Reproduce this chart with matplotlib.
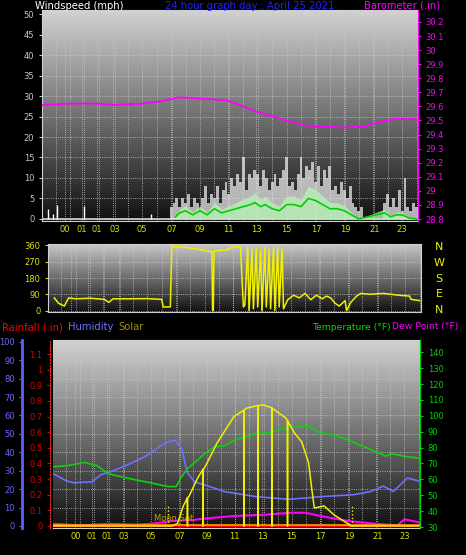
import numpy as np
import matplotlib
matplotlib.use("Agg")
import matplotlib.pyplot as plt
from matplotlib.colors import LinearSegmentedColormap

# ---------------- data ----------------
xtick_pos = [-0.35, 0.83, 1.87, 3.1, 5.0, 7.07, 9.0, 10.95, 12.9, 15.0, 17.05, 19.06, 21.07, 23.0]
xtick_lab = ["00", "01", "01", "03", "05", "07", "09", "11", "13", "15", "17", "19", "21", "23"]

# barometer (inHg)
baro_t = [-1.9, 0, 2, 3, 5, 6.5, 7.5, 9, 10, 11, 12, 13, 14, 15, 16, 17, 18, 19, 20, 20.5, 21, 22, 22.5, 24]
baro_v = [29.61, 29.62, 29.62, 29.61, 29.62, 29.64, 29.665, 29.655, 29.65, 29.64, 29.6, 29.56, 29.53, 29.5, 29.47,
          29.455, 29.455, 29.45, 29.455, 29.46, 29.48, 29.5, 29.51, 29.51]

# gusts (mph)
night_gust_t = [-1.5, -1.2, -0.9, 1.0, 5.6]
night_gust_v = [2.5, 1.2, 3.3, 3.2, 1.2]
day_gust_start = 7.0
day_gust = [3, 4, 5, 3, 5, 4, 6, 3, 5, 4, 2, 5, 8, 4, 6, 5, 8, 4, 7, 9, 6, 10, 8, 11, 9, 15, 7, 11, 10, 12,
            11, 8, 12, 10, 7, 9, 11, 8, 10, 12, 15, 8, 9, 7, 11, 15, 10, 13, 12, 14, 9, 13, 8, 12, 10, 13, 7, 8,
            6, 9, 7, 5, 8, 4, 3, 2, 3, 0]
eve_gust_start = 21.8
eve_gust = [4, 6, 3, 5, 3, 7, 2, 10, 3, 2, 4, 3]
# average wind (mph)
avg_t = [7.3, 7.6, 8.0, 8.5, 9.0, 9.5, 10.0, 10.5, 11.0, 11.5, 12.0, 12.5, 12.8, 13.2, 13.5, 14.0, 14.5, 15.0,
         15.5, 16.0, 16.5, 17.0, 17.5, 18.0, 18.5, 19.0, 19.5, 20.0, 21.8, 22.2, 22.6, 23.0, 23.5, 24.0]
avg_v = [0.5, 1.5, 2, 1, 2, 1, 2.5, 1.5, 2, 2.5, 3, 3.5, 4, 3, 3.5, 2.5, 2, 3.5, 3.5, 3, 5, 4.5, 3.5, 2.5, 2.5,
         2, 1, 0, 1.5, 0.5, 1, 1, 0.2, 0]

# wind direction (deg)
dir_t = [-1.5, -1.2, -0.8, -0.5, 0, 1, 2, 2.3, 2.6, 3.5, 5, 6.0, 6.1, 6.6, 6.7, 7.6, 8.5, 9.5, 9.55, 9.6, 9.65,
         10.5, 11.1, 11.5, 11.7, 11.8, 12.0, 12.1, 12.3, 12.4, 12.6, 12.7, 12.9, 13.0, 13.2, 13.3, 13.5, 13.6,
         13.8, 13.9, 14.1, 14.2, 14.4, 14.5, 14.8, 15.2, 15.6, 16.0, 16.4, 16.8, 17.2, 17.5, 17.8, 18.1, 18.4,
         18.8, 18.9, 19.2, 19.6, 19.9, 20.5, 21.5, 22.5, 23.3, 23.4, 24.0]
dir_v = [70, 40, 25, 70, 65, 68, 62, 45, 65, 65, 66, 62, 20, 20, 355, 350, 340, 325, 0, 0, 330, 335, 355, 350,
         20, 30, 350, 0, 340, 10, 350, 20, 330, 0, 350, 20, 340, 10, 350, 0, 345, 20, 340, 10, 60, 85, 70, 95,
         60, 85, 65, 80, 70, 40, 25, 55, 0, 45, 80, 95, 90, 95, 85, 80, 62, 55]

# temperature & dew point (F)
temp_t = [-1.9, -1, 0.3, 1.2, 2.0, 3.1, 5.0, 6.2, 6.8, 7.2, 7.6, 8.3, 8.8, 9.5, 10.2, 11.0, 12.0, 12.5, 13.6,
          14.2, 14.8, 15.6, 16.2, 16.9, 18.2, 19.2, 20.8, 21.7, 22.0, 22.2, 23.0, 24.0]
temp_v = [68, 68.5, 70.7, 68.5, 63.5, 61.2, 57.8, 55.5, 55.5, 62, 66.7, 72, 76, 80.5, 81, 85, 87.5, 89, 89.7,
          91.5, 92.8, 93, 93.5, 89.7, 87.4, 84, 78, 74.6, 76, 76, 74.5, 73.3]
dew_t = [-1.9, 0, 2, 4, 5, 6.5, 8, 9.5, 11, 13, 15, 16, 17, 19, 21, 22.5, 23, 24]
dew_v = [32, 31, 32, 31.5, 32, 33.8, 34.5, 35.9, 37, 37.7, 39, 39, 37, 33.8, 32, 31, 34.9, 33]

# humidity (%)
hum_t = [-1.9, -1, -0.5, 0.8, 1.5, 2.1, 3.3, 4.6, 6.0, 6.7, 7.2, 7.4, 7.6, 8.1, 9.5, 10.2, 12.5, 14.8, 17.1,
         19.4, 20.6, 21.5, 22.2, 23.2, 24.0]
hum_v = [28.3, 24.5, 23.5, 23.9, 28, 29.3, 33, 37.7, 45, 46.7, 42, 35, 28.8, 24, 20.6, 18.7, 15.9, 14.5, 15.9,
         17, 18.7, 21.7, 18.7, 26, 24.5]

# solar (W/m2)
solar_t = [-1.9, 6.5, 6.9, 7.3, 7.6, 7.6, 7.6, 7.7, 8.3, 8.7, 8.7, 8.7, 8.8, 9.7, 10.9, 11.6, 11.6, 11.6, 11.8,
           12.6, 12.6, 12.6, 13.0, 13.6, 13.6, 13.6, 14.6, 14.7, 14.7, 14.7, 15.2, 15.7, 16.2, 16.4, 16.6,
           17.3, 18.0, 18.9, 19.2, 24.0]
solar_v = [0, 0, 20, 150, 215, 0, 215, 223, 360, 430, 0, 430, 439, 630, 832, 880, 0, 880, 896, 915, 0, 915,
           921, 896, 0, 896, 819, 800, 0, 800, 706, 641, 479, 299, 137, 152, 84, 23, 0, 0]

# rainfall (in)
rain_t = [-1.9, 24.0]
rain_v = [0.0, 0.0]

# ---------------- figure ----------------
W, H = 466, 555
fig = plt.figure(figsize=(W / 100, H / 100), dpi=100, facecolor="black")
FS = 7.2
TFS = 6.0
XL = (-1.94, 24.1)

def box(l, t, r, b):
    return [l / W, 1 - b / H, (r - l) / W, (b - t) / H]

def gradient(ax, top, bottom):
    cm = LinearSegmentedColormap.from_list("g", [bottom, top])
    g = np.linspace(0, 1, 256).reshape(-1, 1)
    ax.imshow(g, cmap=cm, aspect="auto", extent=[0, 1, 0, 1], origin="lower",
              transform=ax.transAxes, zorder=0)

def style(ax):
    ax.set_facecolor("black")
    for s in ax.spines.values():
        s.set_color("#d0d0d0")
        s.set_linewidth(0.8)
    ax.set_xlim(*XL)
    ax.set_xticks(xtick_pos)
    ax.set_xticklabels(xtick_lab, color="#e0e000", fontsize=TFS)
    ax.set_xticks(np.arange(-1, 25, 1), minor=True)
    ax.grid(True, which="both", axis="x", color="#c8c8c8", ls=":", lw=0.6, zorder=1)
    ax.grid(True, which="major", axis="y", color="#c8c8c8", ls=":", lw=0.6, zorder=1)
    ax.tick_params(axis="x", which="both", length=0, pad=3)

# ---- top panel: wind + barometer ----
ax1 = fig.add_axes(box(42, 10, 418, 221))
style(ax1)
gradient(ax1, "#d2d2d2", "#101010")
ax1.set_ylim(-0.5, 51)
ax1.set_yticks(range(0, 51, 5))
ax1.tick_params(axis="y", colors="#c8c8c8", labelsize=TFS, length=2)
ax1.axhline(0, color="#d8d8d8", lw=1.2, zorder=2)
ax1.vlines(night_gust_t, 0, night_gust_v, color="white", lw=1.0, zorder=3)
dgt = day_gust_start + 0.2 * np.arange(len(day_gust))
egt = eve_gust_start + 0.2 * np.arange(len(eve_gust))
for t, v in zip(list(dgt) + list(egt), day_gust + eve_gust):
    ax1.fill_between([t - 0.1, t + 0.1], 0, v, color="#e8e8e8", alpha=0.75, lw=0, zorder=3)
ax1.fill_between(avg_t, 0, [v * 1.6 for v in avg_v], color="#b8f0b8", alpha=0.8, lw=0, zorder=4)
ax1.plot(avg_t, avg_v, color="#00d000", lw=1.2, zorder=5)
ax1b = ax1.twinx()
ax1b.set_ylim(28.786, 30.285)
ax1b.set_yticks(np.round(np.arange(28.8, 30.21, 0.1), 1))
ax1b.set_yticklabels([f"{v:g}" for v in np.round(np.arange(28.8, 30.21, 0.1), 1)])
ax1b.tick_params(axis="y", colors="#ff00ff", labelsize=TFS, length=2)
for s in ax1b.spines.values():
    s.set_visible(False)
ax1b.spines["right"].set_visible(True)
ax1b.spines["right"].set_color("#ff00ff")
ax1b.plot(baro_t, baro_v, color="#ff00ff", lw=1.3, zorder=5)
fig.text(35 / W, 1 - 6 / H, "Windspeed (mph)", color="white", fontsize=FS, va="center")
fig.text(250 / W, 1 - 6 / H, "24 hour graph day : April 25 2021", color="#2020ff", fontsize=FS,
         va="center", ha="center")
fig.text(440 / W, 1 - 6 / H, "Barometer (.in)", color="#ff00ff", fontsize=FS, va="center", ha="right")

# ---- middle panel: wind direction ----
ax2 = fig.add_axes(box(48, 244, 421, 312))
style(ax2)
ax2.set_xticklabels([])
gradient(ax2, "#c8c8c8", "#101010")
ax2.set_ylim(-8, 368)
ax2.set_yticks([0, 90, 180, 270, 360])
ax2.tick_params(axis="y", colors="#e0e000", labelsize=TFS, length=2)
ax2.plot(dir_t, dir_v, color="#f0f000", lw=1.1, zorder=5)
for lab, deg in zip(["N", "W", "S", "E", "N"], [360, 270, 180, 90, 0]):
    y = 310.3 - deg / 360 * 63.6
    fig.text(439 / W, 1 - y / H, lab, color="#f0f000", fontsize=8, ha="center", va="center")

# ---- bottom panel ----
ax3 = fig.add_axes(box(53, 340, 420, 528))
style(ax3)
gradient(ax3, "#d2d2d2", "#101010")
ax3.set_ylim(-1.1, 101)
ax3.set_yticks(range(0, 101, 10))
ax3.spines["left"].set_position(("outward", 22))
ax3.spines["left"].set_color("#6060ff")
ax3.spines["left"].set_linewidth(2)
ax3.tick_params(axis="y", colors="#6868ff", labelsize=TFS, length=2)
ax3.plot(hum_t, hum_v, color="#7070ff", lw=1.2, zorder=5)

axr = ax3.twinx()
axr.set_ylim(-0.013, 1.19)
axr.set_yticks(np.round(np.arange(0, 1.11, 0.1), 1))
axr.set_yticklabels(["0"] + [f"{v:g}" for v in np.round(np.arange(0.1, 1.11, 0.1), 1)])
axr.yaxis.set_ticks_position("left")
axr.yaxis.set_label_position("left")
for s in axr.spines.values():
    s.set_visible(False)
axr.spines["left"].set_visible(True)
axr.spines["left"].set_position(("outward", 2))
axr.spines["left"].set_color("#ff3030")
axr.spines["left"].set_linestyle(":")
axr.tick_params(axis="y", colors="#e00000", labelsize=TFS, length=2)

axt = ax3.twinx()
axt.set_ylim(29.4, 147.7)
axt.set_yticks(range(30, 141, 10))
for s in axt.spines.values():
    s.set_visible(False)
axt.spines["right"].set_visible(True)
axt.spines["right"].set_color("#00d000")
axt.tick_params(axis="y", colors="#00d000", labelsize=TFS, length=2)
axt.plot(temp_t, temp_v, color="#10d010", lw=1.2, zorder=5)
axt.plot(dew_t, dew_v, color="#ff00ff", lw=1.5, zorder=5)

axs = ax3.twinx()
axs.set_ylim(-15.4, 1414)
axs.axis("off")
axs.plot(solar_t, solar_v, color="#f0f000", lw=1.1, zorder=6)
axs.vlines([6.2, 19.3], 0, 150, color="#f0f000", ls=":", lw=1)
axr.plot(rain_t, rain_v, color="#ff0000", lw=1.5, zorder=6)
axs.axhline(8, color="#ff9900", lw=1.2)
axs.text(6.6, 20, "Moon Set", color="#c0a000", fontsize=6, ha="center", va="bottom")

fig.text(2 / W, 1 - 327 / H, "Rainfall (.in)", color="#ff0000", fontsize=FS, va="center")
fig.text(68 / W, 1 - 327 / H, "Humidity", color="#7070ff", fontsize=FS, va="center")
fig.text(118 / W, 1 - 327 / H, "Solar", color="#a09000", fontsize=FS, va="center")
fig.text(391 / W, 1 - 327 / H, "Temperature (°F)", color="#00e000", fontsize=6.7, va="center", ha="right")
fig.text(392 / W, 1 - 327 / H, "Dew Point (°F)", color="#ff00ff", fontsize=6.7, va="center", ha="left")

fig.savefig("out.png", dpi=100, facecolor="black")
